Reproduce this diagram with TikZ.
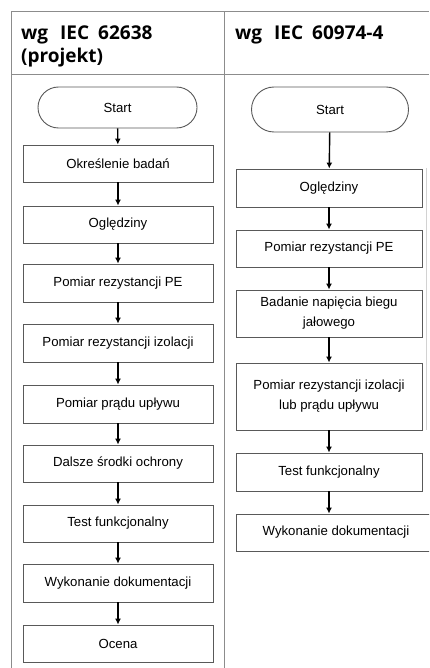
\documentclass[tikz,border=0pt]{standalone}
\usepackage{fontspec}
\setmainfont{Liberation Sans}
\newfontfamily\headfont{Open Sans}
\usetikzlibrary{arrows.meta,shapes.misc}

\definecolor{tabgray}{gray}{0.55}
\definecolor{boxgray}{gray}{0.35}
\newcommand{\gap}[1]{\hspace{#1pt}}

\begin{document}
\begin{tikzpicture}[x=1pt, y=-1pt,
	tab/.style={draw=tabgray, line width=1pt},
	head/.style={inner sep=0pt, align=left, font=\headfont\bfseries\fontsize{19}{23}\selectfont},
	box/.style={draw=boxgray, line width=0.9pt, inner sep=0pt, align=center,
		font=\fontsize{13.2}{20}\selectfont},
	boxL/.style={box, minimum width=190pt},
	boxR/.style={box, minimum width=186pt},
	term/.style={box, rounded rectangle},
	flow/.style={-{Latex[length=6pt,width=6pt]}, line width=1.4pt, black}]

	\clip (0,0) rectangle (429,668);

	%% Table
	\draw[tab] (11,668) -- (11,12) -- (429,12);
	\draw[tab] (11,75) -- (429,75);
	\draw[tab] (224,12) -- (224,668);
	\draw[draw=gray!35, line width=1.2pt] (426.5,168) -- (426.5,430);

	%% Header
	\node[head, anchor=north west] (hA) at (21,26) {wg\gap{12}IEC\gap{9}62638\\(projekt)};
	\node[head, anchor=north west] (hB) at (235,26) {wg\gap{12}IEC\gap{9}60974-4};

	%% IEC 62638
	\node[term, minimum width=159pt, minimum height=41pt] (sA) at (117.5,107.5) {Start};
	\node[boxL, minimum height=37pt] (a1) at (118,163.5) {Określenie badań};
	\node[boxL, minimum height=37pt] (a2) at (118,224.5) {Oględziny};
	\node[boxL, minimum height=38pt] (a3) at (118,283) {Pomiar rezystancji PE};
	\node[boxL, minimum height=38pt] (a4) at (118,343) {Pomiar rezystancji izolacji};
	\node[boxL, minimum height=38pt] (a5) at (118,404) {Pomiar prądu upływu};
	\node[boxL, minimum height=37pt] (a6) at (118,463.5) {Dalsze środki ochrony};
	\node[boxL, minimum height=37pt] (a7) at (118,523.5) {Test funkcjonalny};
	\node[boxL, minimum height=38pt] (a8) at (118,583) {Wykonanie dokumentacji};
	\node[boxL, minimum height=37pt] (a9) at (118,643.5) {Ocena};

	\draw[flow] (sA) -- (a1);
	\draw[flow] (a1) -- (a2);
	\draw[flow] (a2) -- (a3);
	\draw[flow] (a3) -- (a4);
	\draw[flow] (a4) -- (a5);
	\draw[flow] (a5) -- (a6);
	\draw[flow] (a6) -- (a7);
	\draw[flow] (a7) -- (a8);
	\draw[flow] (a8) -- (a9);

	%% IEC 60974-4
	\node[term, minimum width=157pt, minimum height=45pt] (sB) at (330,109.5) {Start};
	\node[boxR, minimum height=38pt] (b1) at (329,188) {Oględziny};
	\node[boxR, minimum height=37pt] (b2) at (329,248.5) {Pomiar rezystancji PE};
	\node[boxR, minimum height=47pt] (b3) at (329,313.5) {Badanie napięcia biegu\\jałowego};
	\node[boxR, minimum height=67pt] (b4) at (329,396.5) {Pomiar rezystancji izolacji\\lub prądu upływu};
	\node[boxR, minimum height=38pt] (b5) at (329,472) {Test funkcjonalny};
	\node[box, minimum width=200pt, minimum height=37pt] (b6) at (336,532.5) {Wykonanie dokumentacji};

	\draw[flow] (sB) -- (b1);
	\draw[flow] (b1) -- (b2);
	\draw[flow] (b2) -- (b3);
	\draw[flow] (b3) -- (b4);
	\draw[flow] (b4) -- (b5);
	\draw[flow] (b5) -- (b6.north -| b5.south);

\end{tikzpicture}
\end{document}
